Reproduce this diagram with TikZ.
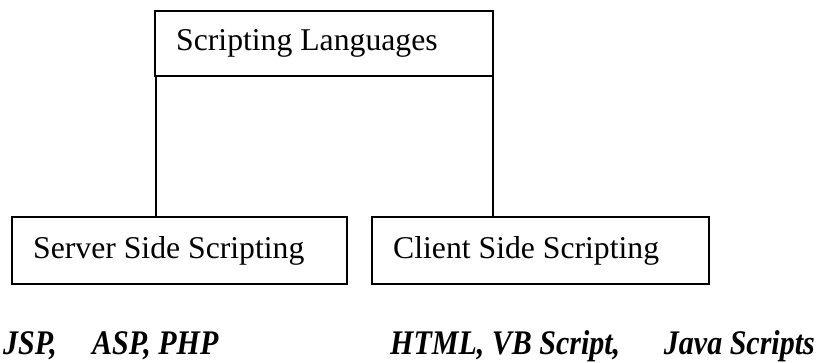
\documentclass[tikz,border=0pt]{standalone}
\usepackage{fontspec}
\setmainfont{Liberation Serif}
\newcommand{\extxt}[1]{\scalebox{1}[1.15]{#1}}
\begin{document}
\begin{tikzpicture}[x=1pt,y=-1pt,
  boxline/.style={draw=black,line width=1.3pt},
  lbl/.style={font=\fontsize{31.7}{36}\selectfont,anchor=base west,inner sep=0pt},
  ex/.style={font=\fontsize{30}{34}\selectfont\bfseries\itshape,inner sep=0pt}]
\useasboundingbox (0,0) rectangle (822,362);
% top box
\draw[boxline] (155,11) rectangle (493,76);
\node[lbl] (top) at (176,50) {Scripting Languages};
% bottom boxes
\draw[boxline] (12,217) rectangle (347,284);
\draw[boxline] (372,217) rectangle (709,284);
\node[lbl] (server) at (33,258) {Server Side Scripting};
\node[lbl] (client) at (393,258) {Client Side Scripting};
% connectors
\coordinate (t1) at (156,76);
\coordinate (b1) at (156,217);
\coordinate (t2) at (493,76);
\coordinate (b2) at (493,217);
\draw[boxline] (t1) -- (b1);
\draw[boxline] (t2) -- (b2);
% examples
\node[ex,anchor=base west] (jsp) at (3,354) {\extxt{JSP,}};
\node[ex,anchor=base west] (asp) at (92,354) {\extxt{ASP, PHP}};
\node[ex,anchor=base west] (html) at (390,354) {\extxt{HTML, VB Script,}};
\node[ex,anchor=base east] (java) at (815,354) {\extxt{Java Scripts}};
\end{tikzpicture}
\end{document}
